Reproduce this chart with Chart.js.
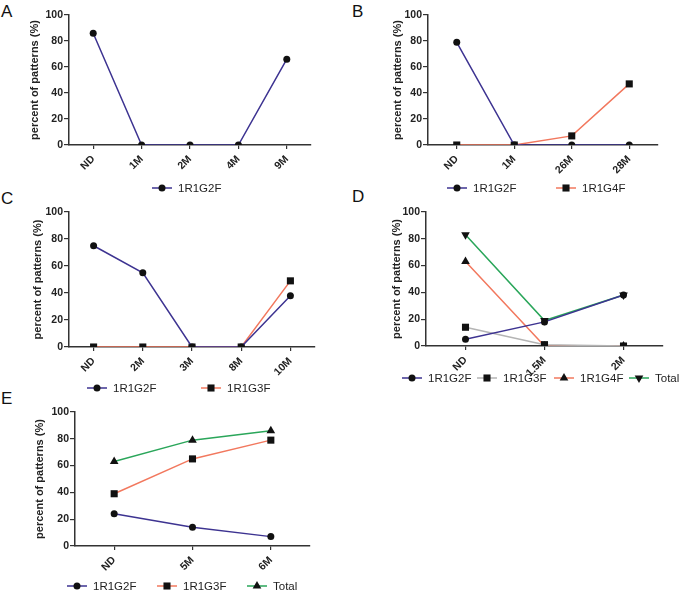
<!DOCTYPE html>
<html lang="en">
<head>
<meta charset="UTF-8">
<title>Percent of patterns</title>
<script src="https://cdn.jsdelivr.net/npm/chart.js"></script>
<style>
    body {
        margin: 0;
        background: #fff;
        width: 685px;
        height: 591px;
        position: relative;
        overflow: hidden;
        font-family: "Liberation Sans", Arial, sans-serif;
    }
    canvas { position: absolute; }
    .letter {
        position: absolute;
        font-size: 17px;
        line-height: 1;
        color: #111;
    }
</style>
</head>
<body>
<div class="letter" style="left:1px;top:3px">A</div>
<div class="letter" style="left:352px;top:3px">B</div>
<div class="letter" style="left:1px;top:190px">C</div>
<div class="letter" style="left:352px;top:188px">D</div>
<div class="letter" style="left:1px;top:390px">E</div>

<canvas id="chartA"></canvas>
<canvas id="chartB"></canvas>
<canvas id="chartC"></canvas>
<canvas id="chartD"></canvas>
<canvas id="chartE"></canvas>

<script>
// ---- data ----
const catsA = ['ND', '1M', '2M', '4M', '9M'];
const a_1R1G2F = [86, 0, 0, 0, 66];

const catsB = ['ND', '1M', '26M', '28M'];
const b_1R1G2F = [79, 0, 0, 0];
const b_1R1G4F = [0, 0, 7, 47];

const catsC = ['ND', '2M', '3M', '8M', '10M'];
const c_1R1G2F = [75, 55, 0, 0, 38];
const c_1R1G3F = [0, 0, 0, 0, 49];

const catsD = ['ND', '1.5M', '2M'];
const d_1R1G2F = [5, 18, 38];
const d_1R1G3F = [14, 1, 0];
const d_1R1G4F = [63, 0, 0];
const d_Total = [83, 19, 38];

const catsE = ['ND', '5M', '6M'];
const e_1R1G2F = [24, 14, 7];
const e_1R1G3F = [39, 65, 79];
const e_Total = [63, 79, 86];

const yMin = 0, yMax = 100, yStep = 20;
const yTitle = 'percent of patterns (%)';

// ---- style ----
const FONT = '"Liberation Sans", Arial, sans-serif';
const INDIGO = '#3d3391';
const CORAL = '#f2785e';
const GRAY = '#b4b4b4';
const GREEN = '#2aa65a';

// marker drawing, same shapes as chart.js point styles
function drawMarker(ctx, style, rotation, r, x, y) {
    ctx.fillStyle = '#111';
    ctx.beginPath();
    if (style === 'rect') {
        const s = Math.SQRT1_2 * r;
        ctx.rect(x - s, y - s, 2 * s, 2 * s);
    } else if (style === 'triangle') {
        let rad = (rotation || 0) * Math.PI / 180;
        ctx.moveTo(x + Math.sin(rad) * r, y - Math.cos(rad) * r);
        rad += 2 * Math.PI / 3;
        ctx.lineTo(x + Math.sin(rad) * r, y - Math.cos(rad) * r);
        rad += 2 * Math.PI / 3;
        ctx.lineTo(x + Math.sin(rad) * r, y - Math.cos(rad) * r);
        ctx.closePath();
    } else {
        ctx.arc(x, y, r, 0, Math.PI * 2);
    }
    ctx.fill();
}

// legend under each panel: line + marker + name
const lineLegend = {
    id: 'lineLegend',
    afterDraw(chart, args, opts) {
        const ctx = chart.ctx;
        ctx.save();
        chart.data.datasets.forEach((ds, i) => {
            const tx = opts.xs[i], y = opts.y;
            ctx.strokeStyle = ds.borderColor;
            ctx.lineWidth = 1.5;
            ctx.beginPath();
            ctx.moveTo(tx - 26, y);
            ctx.lineTo(tx - 6, y);
            ctx.stroke();
            drawMarker(ctx, ds.pointStyle, ds.pointRotation, ds.pointRadius, tx - 16, y);
            ctx.fillStyle = '#222';
            ctx.font = '11.5px ' + FONT;
            ctx.textAlign = 'left';
            ctx.textBaseline = 'middle';
            ctx.fillText(ds.label, tx, y + 0.5);
        });
        ctx.restore();
    }
};

function series(name, data, color, marker, size, rot) {
    return { name, data, color, marker, size, rot: rot || 0 };
}

function makeChart(id, geo, labels, list) {
    const [x0, y0, w, h] = geo.box;
    const [l, t, r, b] = geo.area;
    const canvas = document.getElementById(id);
    canvas.width = w;
    canvas.height = h;
    canvas.style.left = x0 + 'px';
    canvas.style.top = y0 + 'px';

    const scaleLeft = geo.titleX - 10.6 - x0;
    const yWidth = l - x0 - scaleLeft;
    const xHeight = (y0 + h) - b;

    new Chart(canvas, {
        type: 'line',
        data: {
            labels: labels,
            datasets: list.map(s => ({
                label: s.name,
                data: s.data,
                borderColor: s.color,
                backgroundColor: '#111',
                pointBackgroundColor: '#111',
                pointBorderColor: '#111',
                pointBorderWidth: 0,
                pointStyle: s.marker,
                pointRotation: s.rot,
                pointRadius: s.size,
                borderWidth: 1.5,
                tension: 0,
                fill: false
            }))
        },
        options: {
            responsive: false,
            animation: false,
            devicePixelRatio: 1,
            layout: { padding: { left: scaleLeft, top: t - y0, right: x0 + w - r, bottom: 0 } },
            plugins: {
                legend: { display: false },
                tooltip: { enabled: false },
                lineLegend: { y: geo.legendY - y0, xs: geo.legendX.map(v => v - x0) }
            },
            scales: {
                x: {
                    offset: true,
                    grid: { display: true, drawOnChartArea: false, drawTicks: true, tickLength: 4, color: '#333', lineWidth: 1.2 },
                    border: { display: true, color: '#333', width: 1.5 },
                    ticks: { maxRotation: 45, minRotation: 45, padding: 4, color: '#222', font: { family: FONT, size: 10.5, weight: 'bold' } },
                    afterFit(s) { s.height = xHeight; }
                },
                y: {
                    min: yMin,
                    max: yMax,
                    grid: { display: true, drawOnChartArea: false, drawTicks: true, tickLength: 5, color: '#333', lineWidth: 1.2 },
                    border: { display: true, color: '#333', width: 1.5 },
                    ticks: { stepSize: yStep, padding: 1, color: '#222', font: { family: FONT, size: 10.5, weight: 'bold' } },
                    title: { display: true, text: yTitle, color: '#222', font: { family: FONT, size: 11, weight: 'bold' } },
                    afterFit(s) { s.width = yWidth; }
                }
            }
        },
        plugins: [lineLegend]
    });
}

makeChart('chartA',
    { box: [0, 0, 340, 196], area: [69, 15, 311, 145], titleX: 35, legendY: 188, legendX: [178] },
    catsA,
    [series('1R1G2F', a_1R1G2F, INDIGO, 'circle', 3.5)]);

makeChart('chartB',
    { box: [340, 0, 345, 196], area: [428, 15, 658, 145], titleX: 398, legendY: 188, legendX: [473, 582] },
    catsB,
    [series('1R1G2F', b_1R1G2F, INDIGO, 'circle', 3.5),
     series('1R1G4F', b_1R1G4F, CORAL, 'rect', 5)]);

makeChart('chartC',
    { box: [0, 196, 340, 200], area: [69, 212, 315, 347], titleX: 38, legendY: 388, legendX: [113, 227] },
    catsC,
    [series('1R1G2F', c_1R1G2F, INDIGO, 'circle', 3.5),
     series('1R1G3F', c_1R1G3F, CORAL, 'rect', 5)]);

makeChart('chartD',
    { box: [340, 196, 345, 200], area: [426, 212, 663, 346], titleX: 397, legendY: 378, legendX: [428, 503, 580, 655] },
    catsD,
    [series('1R1G2F', d_1R1G2F, INDIGO, 'circle', 3.5),
     series('1R1G3F', d_1R1G3F, GRAY, 'rect', 5),
     series('1R1G4F', d_1R1G4F, CORAL, 'triangle', 5),
     series('Total', d_Total, GREEN, 'triangle', 5, 180)]);

makeChart('chartE',
    { box: [0, 396, 340, 195], area: [75, 412, 310, 546], titleX: 40, legendY: 586, legendX: [93, 183, 273] },
    catsE,
    [series('1R1G2F', e_1R1G2F, INDIGO, 'circle', 3.5),
     series('1R1G3F', e_1R1G3F, CORAL, 'rect', 5),
     series('Total', e_Total, GREEN, 'triangle', 5)]);
</script>
</body>
</html>
